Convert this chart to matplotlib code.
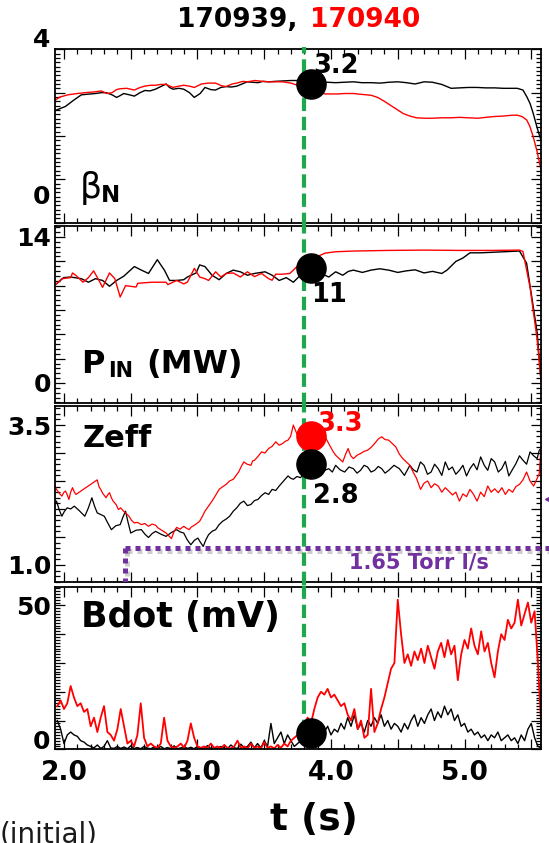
import numpy as np
import matplotlib.pyplot as plt
import matplotlib.patheffects as pe
from matplotlib.lines import Line2D
from matplotlib.ticker import MultipleLocator, FuncFormatter

plt.rcParams['font.family'] = 'DejaVu Sans'
plt.rcParams['font.weight'] = 'bold'

RED = '#ff0000'
GREEN = '#1ea84e'
PURPLE = '#7030a0'

t_slice = 3.80   # dashed time marker
t_dot = 3.85     # time of the highlighted values

# ---- beta_N ----
beta_t_939 = [1.935, 1.944, 2.01, 2.07, 2.13, 2.2, 2.235, 2.28, 2.315, 2.36, 2.394, 2.42, 2.447, 2.49,
              2.527, 2.57, 2.606, 2.645, 2.685, 2.725, 2.765, 2.79, 2.817, 2.86, 2.897, 2.94, 2.976,
              3.02, 3.056, 3.10, 3.135, 3.175, 3.214, 3.255, 3.294, 3.334, 3.373, 3.41, 3.453, 3.49,
              3.532, 3.58, 3.638, 3.70, 3.771, 3.84, 3.903, 3.97, 4.035, 4.10, 4.168, 4.23, 4.30,
              4.37, 4.432, 4.50, 4.565, 4.63, 4.697, 4.76, 4.829, 4.90, 4.962, 5.03, 5.094, 5.16,
              5.226, 5.29, 5.359, 5.395, 5.438, 5.466, 5.491, 5.515, 5.543, 5.573]
beta_939 = [2.60, 2.60, 2.68, 2.82, 2.95, 2.97, 2.98, 3.00, 3.00, 2.95, 2.89, 2.93, 2.98, 2.95,
            2.92, 3.00, 3.05, 3.04, 3.08, 3.14, 3.20, 3.12, 3.08, 3.10, 3.08, 3.00, 2.89,
            2.98, 3.12, 3.07, 3.06, 3.12, 3.14, 3.13, 3.15, 3.20, 3.25, 3.24, 3.23, 3.26,
            3.25, 3.26, 3.27, 3.28, 3.28, 3.27, 3.25, 3.24, 3.23, 3.24, 3.25, 3.23, 3.23,
            3.22, 3.24, 3.25, 3.23, 3.20, 3.25, 3.24, 3.19, 3.10, 3.11, 3.12, 3.12, 3.11,
            3.11, 3.10, 3.10, 3.10, 3.06, 2.91, 2.75, 2.52, 2.20, 1.90]
beta_t_940 = [1.935, 1.97, 2.03, 2.10, 2.16, 2.235, 2.28, 2.32, 2.36, 2.394, 2.42, 2.47, 2.527, 2.57,
              2.606, 2.645, 2.685, 2.725, 2.765, 2.817, 2.86, 2.897, 2.94, 2.976, 3.03, 3.08, 3.135,
              3.18, 3.214, 3.26, 3.294, 3.34, 3.373, 3.43, 3.49, 3.532, 3.58, 3.638, 3.70, 3.74,
              3.797, 3.85, 3.903, 3.956, 4.00, 4.05, 4.10, 4.168, 4.23, 4.30, 4.35, 4.40, 4.45,
              4.50, 4.54, 4.59, 4.64, 4.697, 4.76, 4.829, 4.90, 4.962, 5.03, 5.10, 5.16, 5.226,
              5.29, 5.36, 5.395, 5.43, 5.466, 5.49, 5.515, 5.543, 5.573]
beta_940 = [2.83, 2.90, 2.95, 2.98, 3.00, 3.02, 3.04, 2.98, 3.00, 3.07, 3.09, 3.10, 3.06, 3.12,
            3.15, 3.17, 3.17, 3.19, 3.19, 3.12, 3.15, 3.17, 3.15, 3.12, 3.20, 3.22, 3.22,
            3.16, 3.14, 3.20, 3.22, 3.26, 3.25, 3.28, 3.26, 3.25, 3.25, 3.25, 3.22, 3.18,
            3.14, 3.08, 3.02, 2.97, 2.97, 2.97, 2.98, 2.98, 2.96, 2.94, 2.89, 2.80, 2.70,
            2.60, 2.52, 2.46, 2.42, 2.41, 2.41, 2.42, 2.42, 2.43, 2.42, 2.41, 2.43, 2.45,
            2.46, 2.48, 2.48, 2.45, 2.37, 2.22, 1.98, 1.65, 1.22]

# ---- injected power (MW) ----
pin_t_939 = [1.944, 1.997, 2.050, 2.130, 2.183, 2.236, 2.289, 2.341, 2.394, 2.447, 2.527, 2.580,
             2.633, 2.699, 2.752, 2.791, 2.844, 2.897, 2.924, 2.990, 3.016, 3.056, 3.109, 3.162,
             3.215, 3.268, 3.321, 3.374, 3.427, 3.506, 3.559, 3.612, 3.665, 3.718, 3.771, 3.824,
             3.903, 3.943, 3.983, 4.035, 4.088, 4.130, 4.168, 4.235, 4.300, 4.365, 4.432, 4.500,
             4.565, 4.630, 4.697, 4.760, 4.830, 4.869, 4.935, 4.988, 5.041, 5.121, 5.226, 5.412,
             5.465, 5.544, 5.573]
pin_939 = [9.50, 10.10, 10.16, 10.00, 9.66, 10.00, 9.83, 9.27, 9.83, 10.23, 11.16, 10.82,
           10.50, 11.82, 10.82, 9.83, 9.83, 9.90, 10.16, 10.55, 11.32, 11.16, 10.33, 9.90,
           10.50, 10.82, 10.66, 10.33, 10.50, 10.66, 10.33, 9.83, 10.10, 9.66, 10.33, 10.82,
           10.89, 10.40, 10.16, 10.66, 10.33, 10.70, 10.82, 10.60, 10.82, 10.95, 10.82, 10.60,
           10.75, 10.85, 10.55, 10.70, 10.50, 10.82, 11.65, 11.98, 12.48, 12.48, 12.54, 12.65,
           11.49, 4.86, 0.23]
pin_t_940 = [1.944, 1.984, 2.050, 2.064, 2.090, 2.143, 2.183, 2.222, 2.262, 2.289, 2.341, 2.381,
             2.421, 2.461, 2.540, 2.553, 2.659, 2.765, 2.778, 2.844, 2.897, 2.924, 2.977, 3.016,
             3.056, 3.083, 3.136, 3.175, 3.215, 3.268, 3.321, 3.374, 3.427, 3.480, 3.533, 3.559,
             3.586, 3.638, 3.691, 3.718, 3.771, 3.824, 3.903, 3.956, 4.035, 4.168, 4.432, 4.697,
             4.962, 5.226, 5.412, 5.438, 5.491, 5.544, 5.573]
pin_940 = [9.50, 10.00, 10.10, 10.55, 10.30, 9.66, 10.10, 10.75, 9.83, 9.17, 10.55, 10.00,
           8.24, 9.33, 9.20, 9.56, 9.66, 9.66, 9.43, 9.83, 9.50, 9.66, 10.99, 10.16,
           10.00, 9.83, 10.66, 10.16, 10.50, 10.55, 10.16, 10.66, 10.20, 10.50, 10.00, 9.85,
           10.43, 10.43, 10.50, 10.82, 11.49, 11.82, 12.15, 12.45, 12.58, 12.65, 12.71, 12.74,
           12.71, 12.71, 12.74, 12.60, 9.17, 4.20, 0.23]

# ---- Zeff ----
zeff_t_939 = [1.935, 1.944, 1.965, 1.984, 2.004, 2.024, 2.050, 2.077, 2.110, 2.156, 2.183, 2.209,
              2.229, 2.249, 2.275, 2.302, 2.328, 2.355, 2.388, 2.421, 2.441, 2.461, 2.480, 2.500,
              2.540, 2.580, 2.606, 2.633, 2.660, 2.686, 2.725, 2.765, 2.805, 2.844, 2.870, 2.897,
              2.923, 2.950, 2.977, 3.003, 3.023, 3.043, 3.063, 3.083, 3.109, 3.136, 3.162, 3.188,
              3.215, 3.241, 3.268, 3.294, 3.320, 3.347, 3.374, 3.400, 3.427, 3.453, 3.480, 3.506,
              3.533, 3.559, 3.586, 3.612, 3.645, 3.678, 3.698, 3.718, 3.745, 3.771, 3.797, 3.824,
              3.850, 3.876, 3.903, 3.943, 3.983, 4.010, 4.035, 4.068, 4.102, 4.135, 4.168, 4.195,
              4.221, 4.248, 4.274, 4.300, 4.327, 4.354, 4.380, 4.405, 4.432, 4.472, 4.512, 4.550,
              4.591, 4.617, 4.644, 4.670, 4.697, 4.723, 4.750, 4.776, 4.803, 4.830, 4.856, 4.882,
              4.909, 4.935, 4.962, 4.988, 5.015, 5.041, 5.068, 5.094, 5.121, 5.148, 5.174, 5.200,
              5.226, 5.253, 5.279, 5.306, 5.332, 5.358, 5.385, 5.412, 5.438, 5.465, 5.491, 5.518,
              5.544, 5.560, 5.573]
zeff_939 = [2.10, 2.14, 1.98, 1.87, 1.96, 2.02, 2.00, 2.05, 1.98, 1.87, 2.02, 2.20,
            2.05, 1.93, 1.90, 1.87, 1.75, 1.63, 1.70, 1.72, 1.85, 1.96, 1.76, 1.57,
            1.62, 1.63, 1.55, 1.49, 1.56, 1.60, 1.55, 1.51, 1.58, 1.63, 1.59, 1.57,
            1.45, 1.36, 1.44, 1.48, 1.40, 1.33, 1.45, 1.54, 1.60, 1.63, 1.72, 1.78,
            1.82, 1.87, 1.96, 2.02, 2.10, 2.14, 2.06, 2.08, 2.15, 2.17, 2.24, 2.29,
            2.26, 2.35, 2.33, 2.41, 2.50, 2.59, 2.55, 2.53, 2.58, 2.56, 2.62, 2.66,
            2.70, 2.64, 2.62, 2.68, 2.72, 2.66, 2.78, 2.70, 2.66, 2.75, 2.72, 2.64,
            2.69, 2.78, 2.75, 2.66, 2.69, 2.76, 2.72, 2.64, 2.69, 2.78, 2.72, 2.60,
            2.78, 2.70, 2.66, 2.84, 2.78, 2.62, 2.66, 2.80, 2.72, 2.60, 2.84, 2.70,
            2.75, 2.62, 2.69, 2.78, 2.59, 2.72, 2.81, 2.70, 2.93, 2.78, 2.69, 2.90,
            2.84, 2.66, 2.72, 2.85, 2.59, 2.70, 2.81, 2.95, 2.87, 2.80, 3.02, 2.95,
            2.90, 3.05, 3.08]
zeff_t_940 = [1.935, 1.944, 1.965, 1.984, 2.000, 2.011, 2.025, 2.037, 2.050, 2.064, 2.078, 2.090,
              2.249, 2.262, 2.275, 2.290, 2.315, 2.330, 2.341, 2.355, 2.368, 2.390, 2.408, 2.425,
              2.447, 2.465, 2.487, 2.505, 2.527, 2.550, 2.580, 2.605, 2.633, 2.660, 2.686, 2.705,
              2.725, 2.745, 2.765, 2.785, 2.805, 2.825, 2.844, 2.870, 2.897, 2.915, 2.937, 2.955,
              2.977, 2.995, 3.016, 3.035, 3.056, 3.080, 3.109, 3.135, 3.162, 3.190, 3.215, 3.240,
              3.268, 3.290, 3.308, 3.328, 3.347, 3.372, 3.400, 3.414, 3.427, 3.450, 3.480, 3.505,
              3.533, 3.560, 3.586, 3.612, 3.638, 3.658, 3.678, 3.698, 3.718, 3.738, 3.758, 3.778,
              3.797, 3.823, 3.850, 3.876, 3.903, 3.930, 3.956, 3.976, 3.996, 4.015, 4.035, 4.062,
              4.088, 4.108, 4.128, 4.148, 4.168, 4.195, 4.221, 4.248, 4.274, 4.300, 4.327, 4.354,
              4.380, 4.405, 4.432, 4.458, 4.485, 4.512, 4.538, 4.565, 4.591, 4.615, 4.640, 4.671,
              4.697, 4.724, 4.750, 4.776, 4.803, 4.830, 4.856, 4.882, 4.910, 4.935, 4.962, 4.988,
              5.015, 5.041, 5.068, 5.094, 5.121, 5.148, 5.174, 5.200, 5.226, 5.253, 5.280, 5.306,
              5.332, 5.360, 5.385, 5.412, 5.438, 5.465, 5.491, 5.518, 5.545, 5.560, 5.573]
zeff_940 = [2.40, 2.35, 2.28, 2.23, 2.30, 2.32, 2.25, 2.17, 2.30, 2.38, 2.30, 2.26,
            2.52, 2.40, 2.35, 2.28, 2.20, 2.26, 2.29, 2.20, 2.14, 2.08, 1.99, 2.02,
            1.96, 1.92, 1.87, 1.80, 1.75, 1.76, 1.72, 1.74, 1.69, 1.73, 1.71, 1.66,
            1.63, 1.60, 1.57, 1.52, 1.47, 1.60, 1.67, 1.64, 1.69, 1.66, 1.63, 1.68,
            1.71, 1.74, 1.78, 1.86, 1.96, 2.04, 2.14, 2.24, 2.35, 2.40, 2.44, 2.50,
            2.53, 2.60, 2.66, 2.76, 2.84, 2.80, 2.78, 2.86, 2.87, 2.93, 3.02, 3.00,
            3.08, 3.12, 3.20, 3.14, 3.17, 3.21, 3.23, 3.30, 3.50, 3.38, 3.26, 3.31,
            3.35, 3.26, 3.29, 3.36, 3.38, 3.30, 3.29, 3.20, 3.11, 3.03, 2.96, 2.90,
            2.84, 2.97, 3.08, 2.95, 2.90, 2.96, 2.99, 3.03, 3.05, 3.10, 3.17, 3.25,
            3.29, 3.24, 3.23, 3.17, 3.11, 2.98, 2.90, 2.84, 2.78, 2.66, 2.55, 2.35,
            2.46, 2.50, 2.38, 2.45, 2.41, 2.30, 2.38, 2.32, 2.25, 2.30, 2.14, 2.27,
            2.22, 2.35, 2.26, 2.14, 2.30, 2.22, 2.41, 2.30, 2.36, 2.29, 2.38, 2.26,
            2.35, 2.30, 2.40, 2.44, 2.52, 2.66, 2.50, 2.41, 2.55, 2.63, 3.10]

# ---- Bdot (mV), sampled every 25 ms from 1.95 s ----
bdot_939 = [10, 7, 2, 5, 6, 5, 4.5, 3,
            2.5, 1.5, 1, 0.5, 1.5, 0.3, 1, 3,
            0.5, 0.3, 1, 0.3, 0.8, 0.2, 1.2, 0.3,
            0.6, 0.2, 1, 0.4, 0.2, 0.8, 0.3, 1,
            0.2, 0.6, 0.3, 1.2, 0.2, 0.5, 0.9, 0.3,
            0.7, 0.2, 1, 0.4, 0.3, 1.3, 0.2, 0.6,
            0.3, 1, 0.4, 0.2, 1.5, 0.5, 0.3, 1.8,
            0.4, 1, 2.5, 0.5, 2, 0.5, 3, 1,
            9, 2, 4, 6, 2, 5, 3, 1,
            2, 3, 4, 5, 6, 5, 7, 9,
            6, 8, 5, 7, 6, 9, 7, 11,
            8, 12, 7, 9, 6, 10, 8, 11,
            9, 12, 8, 10, 7, 9, 8, 6,
            9, 7, 10, 12, 8, 11, 9, 12,
            14, 10, 13, 11, 15, 12, 14, 10,
            12, 8, 9, 6, 7, 5, 6, 4,
            5, 3, 5, 4, 6, 3, 4, 5,
            3, 4, 2, 5, 3, 7, 9, 4,
            1, 0.5]
bdot_940 = [15, 17, 14, 16, 22, 18, 15, 16,
            13, 14, 8, 11, 6, 11, 15, 6,
            5, 3, 7, 14, 8, 2, 3, 1,
            5, 16, 4, 1, 2, 1, 0.5, 2,
            11, 3, 1, 0.5, 1, 2, 0.5, 3,
            9, 4, 1, 0.5, 1, 0.5, 2, 0.5,
            1, 0.3, 1.5, 0.5, 0.3, 1, 3, 0.5,
            1, 0.3, 2, 0.5, 1, 0.3, 2.5, 0.5,
            1, 0.3, 1.5, 0.5, 2, 1, 3, 4,
            5, 7, 9, 11, 9, 14, 18, 20,
            19, 21, 18, 19, 17, 15, 16, 12,
            10, 14, 7, 10, 4, 5, 21, 6,
            9, 14, 18, 23, 28, 30, 52, 40,
            30, 33, 29, 34, 31, 35, 30, 36,
            32, 28, 34, 37, 32, 38, 33, 36,
            24, 33, 38, 35, 42, 36, 33, 41,
            34, 37, 30, 25, 34, 40, 38, 45,
            42, 44, 52, 43, 47, 51, 44, 48,
            30, 8]
bdot_t_939 = 1.95 + 0.025 * np.arange(len(bdot_939))
bdot_t_940 = 1.95 + 0.025 * np.arange(len(bdot_940))

# values marked at t_dot
beta_mark = 3.2
pin_mark = 11
zeff_mark_939 = 2.8
zeff_mark_940 = 3.3
bdot_mark = 5.7

# gas puff rate annotation on the Zeff panel
puff_t0, puff_level = 2.457, 1.295

W, H = 549, 843
fig = plt.figure(figsize=(W / 100, H / 100), dpi=100)


def panel(top, bottom, left=55.3, right=541.0):
    return fig.add_axes([left / W, 1 - bottom / H, (right - left) / W, (bottom - top) / H])


ax1 = panel(49.3, 222.7)
ax2 = panel(226.0, 402.7)
ax3 = panel(406.0, 581.7)
ax4 = panel(587.3, 749.3)
axes = [ax1, ax2, ax3, ax4]

for ax in axes:
    ax.set_xlim(1.935, 5.573)
    ax.xaxis.set_major_locator(MultipleLocator(0.5))
    ax.xaxis.set_minor_locator(MultipleLocator(0.1))
    ax.tick_params(which='both', direction='in', top=True, right=True, width=0.9,
                   labelsize=18, labelbottom=False, pad=3)
    ax.tick_params(which='major', length=7)
    ax.tick_params(which='minor', length=3.5)
    for s in ax.spines.values():
        s.set_linewidth(1.3)


def only(vals, fmt):
    return FuncFormatter(lambda v, p: fmt.format(v) if any(abs(v - x) < 1e-6 for x in vals) else '')


# beta_N
ax1.plot(beta_t_939, beta_939, color='k', lw=1.0)
ax1.plot(beta_t_940, beta_940, color=RED, lw=1.0)
ax1.set_ylim(0, 4)
ax1.yaxis.set_major_locator(MultipleLocator(1))
ax1.yaxis.set_minor_locator(MultipleLocator(0.1))
ax1.tick_params(axis='y', labelleft=False)
ax1.text(-0.011, 1.054, '4', transform=ax1.transAxes, ha='right', va='center', fontsize=18)
ax1.text(-0.011, 0.148, '0', transform=ax1.transAxes, ha='right', va='center', fontsize=18)
ax1.text(0.051, 0.14, 'β', transform=ax1.transAxes, fontsize=25, fontweight='normal')
ax1.text(0.094, 0.119, 'N', transform=ax1.transAxes, fontsize=16.5)

# P_IN
ax2.plot(pin_t_939, pin_939, color='k', lw=1.0)
ax2.plot(pin_t_940, pin_940, color=RED, lw=1.0)
ax2.set_ylim(-1.89, 15.05)
ax2.yaxis.set_major_locator(MultipleLocator(14 / 6))
ax2.yaxis.set_minor_locator(MultipleLocator(14 / 30))
ax2.yaxis.set_major_formatter(only([0, 14], '{:.0f}'))
ax2.text(0.053, 0.168, 'P', transform=ax2.transAxes, fontsize=23)
ax2.text(0.108, 0.147, 'IN', transform=ax2.transAxes, fontsize=15)
ax2.text(0.188, 0.168, '(MW)', transform=ax2.transAxes, fontsize=23)

# Zeff
ax3.plot(zeff_t_939, zeff_939, color='k', lw=0.9)
ax3.plot(zeff_t_940, zeff_940, color=RED, lw=0.9)
ax3.set_ylim(0.70, 3.84)
ax3.yaxis.set_major_locator(MultipleLocator(0.5))
ax3.yaxis.set_minor_locator(MultipleLocator(0.1))
ax3.yaxis.set_major_formatter(only([1.0, 3.5], '{:.1f}'))
ax3.text(0.057, 0.767, 'Zeff', transform=ax3.transAxes, fontsize=22)

shadow = [pe.SimpleLineShadow(offset=(1.2, -1.8), shadow_color='0.45', alpha=0.35), pe.Normal()]
ax3.plot([puff_t0, 5.63], [puff_level, puff_level], color=PURPLE, lw=3.6, ls=(0, (1, 1)),
         dash_capstyle='butt', clip_on=False, path_effects=shadow, zorder=4)
ax3.plot([puff_t0, puff_t0], [puff_level, 0.70], color=PURPLE, lw=3.6, ls=(0, (1, 1)),
         dash_capstyle='butt', path_effects=shadow, zorder=4)
ax3.text(4.66, 1.04, '1.65 Torr l/s', color=PURPLE, fontsize=15, ha='center', va='center')

# Bdot
ax4.plot(bdot_t_939, bdot_939, color='k', lw=1.0)
ax4.plot(bdot_t_940, bdot_940, color=RED, lw=1.3)
ax4.set_ylim(0, 56.3)
ax4.yaxis.set_major_locator(MultipleLocator(10))
ax4.yaxis.set_minor_locator(MultipleLocator(1))
ax4.yaxis.set_major_formatter(only([50], '{:.0f}'))
ax4.text(-0.011, 0.045, '0', transform=ax4.transAxes, ha='right', va='center', fontsize=18)
ax4.text(0.053, 0.757, 'Bdot (mV)', transform=ax4.transAxes, fontsize=25)
ax4.tick_params(axis='x', labelbottom=True, pad=8, labelsize=19)
ax4.xaxis.set_major_formatter(FuncFormatter(
    lambda v, p: '{:.1f}'.format(v) if abs(v - round(v)) < 1e-6 else ''))

# dashed time marker through all panels
for ax, lo, hi in [(ax1, -0.02, 1.015), (ax2, -0.02, 1.02), (ax3, -0.02, 1.02), (ax4, 0.10, 1.02)]:
    ax.axvline(t_slice, ymin=lo, ymax=hi, color=GREEN, lw=3, ls=(0, (3.2, 1.4)),
               clip_on=False, zorder=3)

# highlighted values
dot = dict(marker='o', ms=21, ls='none', zorder=6, clip_on=False)
ax1.plot(t_dot, beta_mark, color='k', **dot)
ax2.plot(t_dot, pin_mark, color='k', **dot)
ax3.plot(t_dot, zeff_mark_940, color=RED, **dot)
ax3.plot(t_dot, zeff_mark_939, color='k', **dot)
ax4.plot(t_dot, bdot_mark, color='k', **dot)

lab = dict(textcoords='offset points', ha='center', va='center', fontsize=18.5, zorder=5)
ax1.annotate(f'{beta_mark:.1f}', xy=(t_dot, beta_mark), xytext=(18, 13), **lab)
ax2.annotate(f'{pin_mark}', xy=(t_dot, pin_mark), xytext=(13, -19), **lab)
ax3.annotate(f'{zeff_mark_940:.1f}', xy=(t_dot, zeff_mark_940), xytext=(21, 9), color=RED, **lab)
ax3.annotate(f'{zeff_mark_939:.1f}', xy=(t_dot, zeff_mark_939), xytext=(18, -23), **lab)

# title, x label and edge fragments
fig.text(297 / W, 1 - 26.7 / H, '170939,', ha='right', va='baseline', fontsize=19)
fig.text(310 / W, 1 - 26.7 / H, '170940', ha='left', va='baseline', fontsize=19, color=RED)
fig.text(314 / W, 1 - 820 / H, 't (s)', ha='center', va='center', fontsize=27)
fig.text(0.0, 1 - 842 / H, '(initial)', ha='left', va='baseline', fontsize=20,
         fontweight='normal', color='0.1')
fig.add_artist(Line2D([550 / W], [1 - 499 / H], marker='<', ms=7, color=PURPLE,
                      transform=fig.transFigure))

fig.savefig('out.png', dpi=100, facecolor='white')
